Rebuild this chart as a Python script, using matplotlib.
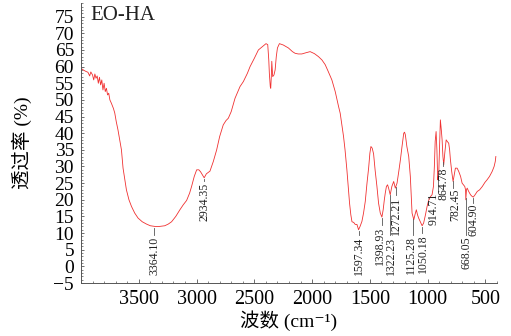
import numpy as np
import matplotlib
matplotlib.use("Agg")
import matplotlib.pyplot as plt
from matplotlib.ticker import MultipleLocator

# ---- data ----
wavenumber = [4000, 3980, 3960, 3940, 3925, 3915, 3900, 3890, 3880, 3870, 3860, 3850, 3840, 3830,
              3820, 3810, 3800, 3790, 3780, 3770, 3760, 3750, 3737, 3720, 3708, 3695, 3680, 3665,
              3650, 3636, 3620, 3607, 3585, 3563, 3535, 3506, 3470, 3433, 3400, 3361, 3320, 3275,
              3245, 3216, 3180, 3144, 3115, 3086, 3060, 3043, 3020, 2999, 2980, 2965, 2950, 2934,
              2915, 2884, 2855, 2826, 2800, 2769, 2745, 2725, 2700, 2667, 2624, 2595, 2560, 2537,
              2500, 2465, 2430, 2399, 2384, 2375, 2370, 2362, 2358, 2353, 2349, 2345, 2341, 2330,
              2320, 2310, 2300, 2283, 2250, 2205, 2170, 2147, 2120, 2089, 2050, 2017, 1980, 1945,
              1915, 1887, 1860, 1829, 1800, 1771, 1757, 1740, 1728, 1715, 1699, 1685, 1676, 1665,
              1655, 1640, 1627, 1612, 1598, 1585, 1569, 1555, 1540, 1525, 1511, 1500, 1491, 1480,
              1468, 1455, 1439, 1425, 1410, 1396, 1385, 1375, 1367, 1357, 1347, 1338, 1324, 1310,
              1294, 1280, 1265, 1250, 1236, 1222, 1207, 1200, 1193, 1180, 1164, 1150, 1135, 1120,
              1110, 1098, 1088, 1078, 1065, 1048, 1035, 1019, 1005, 990, 975, 962, 950, 942, 935,
              927, 920, 913, 908, 904, 898, 890, 882, 875, 868, 861, 852, 840, 830, 818, 810, 803,
              792, 780, 770, 760, 745, 731, 715, 702, 690, 679, 672, 670, 667, 664, 658, 645, 629,
              615, 605, 590, 571, 550, 527, 505, 486, 465, 442, 425, 415, 410]
transmittance = [59.5, 59.0, 58.6, 58.3, 57.2, 58.4, 57.5, 56.0, 57.8, 56.5, 57.2, 55.0, 56.8, 54.5,
                 56.0, 53.0, 55.0, 52.5, 53.5, 51.5, 52.0, 50.0, 49.0, 47.5, 46.1, 43.5, 41.0, 38.0,
                 35.0, 29.5, 26.0, 23.0, 20.0, 18.0, 16.0, 14.5, 13.4, 12.7, 12.2, 12.0, 12.0, 12.2,
                 12.7, 13.4, 15.0, 17.0, 18.5, 19.8, 22.0, 24.0, 27.0, 29.0, 29.0, 28.4, 27.5, 26.6,
                 27.8, 28.6, 31.5, 35.0, 39.0, 42.5, 43.8, 44.5, 46.5, 50.5, 54.0, 55.5, 58.0, 60.0,
                 62.5, 65.0, 66.0, 66.9, 66.6, 62.0, 58.0, 54.0, 53.5, 57.0, 61.6, 59.0, 57.0, 57.5,
                 59.0, 63.0, 65.6, 66.9, 66.5, 65.6, 64.5, 64.0, 63.8, 63.8, 64.2, 64.5, 63.9, 63.0,
                 62.0, 60.6, 58.5, 56.0, 52.5, 48.0, 46.0, 42.0, 39.0, 35.0, 29.0, 23.0, 19.0, 15.5,
                 13.4, 13.2, 12.6, 12.6, 11.0, 12.0, 13.5, 16.0, 19.5, 25.0, 29.5, 34.0, 36.0, 35.5,
                 33.8, 29.0, 24.0, 19.0, 16.0, 14.8, 17.0, 20.0, 22.0, 24.0, 24.5, 23.5, 21.5, 24.0,
                 25.5, 23.5, 25.0, 28.5, 32.0, 36.0, 40.0, 40.3, 39.5, 36.0, 33.0, 27.0, 16.0, 14.0,
                 15.5, 17.0, 15.5, 14.5, 13.5, 12.2, 13.0, 15.5, 18.0, 20.0, 21.0, 21.5, 24.0, 30.0, 37.5,
                 40.5, 35.0, 26.0, 27.0, 28.0, 35.0, 44.0, 41.0, 38.0, 33.0, 30.5, 34.0, 38.0, 37.5, 37.0, 35.0, 32.0,
                 28.5, 25.5, 27.5, 29.5, 29.5, 28.5, 27.0, 25.0, 24.5, 24.0, 23.0, 20.0, 21.5, 23.0, 23.5, 22.5, 21.5,
                 21.0, 20.8, 21.5, 22.5, 23.0, 24.0, 25.2, 26.0, 27.0, 28.5, 30.0, 31.5, 33.0]

peak_wavenumbers = [3364.10, 2934.35, 1597.34, 1398.93, 1322.23, 1272.21, 1125.28,
                    1050.18, 914.71, 864.78, 782.45, 668.05, 604.90]
peak_labels = ["3364.10", "2934.35", "1597.34", "1398.93", "1322.23", "1272.21", "1125.28",
               "1050.18", "914.71", "864.78", "782.45", "668.05", "604.90"]
# annotation placement: top of each rotated label (transmittance units) and its x (wavenumber)
label_tops = [9.0, 25.2, 9.0, 12.0, 9.0, 21.0, 9.2, 9.6, 22.0, 29.8, 23.3, 9.0, 18.8]
label_x = [3364.10, 2934.35, 1597.34, 1410.0, 1318.0, 1272.21, 1142.0,
           1040.0, 948.0, 860.0, 764.0, 668.05, 604.90]

x_ticks = [3500, 3000, 2500, 2000, 1500, 1000, 500]
y_ticks = list(range(-5, 80, 5))

# ---- figure ----
serif = ["Liberation Serif", "Noto Sans CJK SC", "DejaVu Serif"]
plt.rcParams["font.family"] = serif

fig = plt.figure(figsize=(5.11, 3.36), dpi=100)
ax = fig.add_axes([0.1585, 0.1577, 0.8141, 0.8323])

ax.plot(wavenumber, transmittance, color="#f03030", lw=0.6)

wn_sorted = np.array(wavenumber[::-1], dtype=float)
tr_sorted = np.array(transmittance[::-1], dtype=float)
for w, lab, top, tx in zip(peak_wavenumbers, peak_labels, label_tops, label_x):
    cv = float(np.interp(w, wn_sorted, tr_sorted))
    if cv - 0.4 > top + 0.3:
        ax.plot([w, w], [cv - 0.4, top + 0.3], color="#555555", lw=0.6)
    ax.text(tx, top, lab, rotation=90, ha="center", va="top", fontsize=8.5,
            color="#222222", family=serif)

ax.set_xlim(4000, 400)
ax.set_ylim(-5, 79)
ax.set_xticks(x_ticks)
ax.set_yticks(y_ticks)
ax.xaxis.set_minor_locator(MultipleLocator(100))
ax.yaxis.set_minor_locator(MultipleLocator(1))

for s in ["top", "right"]:
    ax.spines[s].set_visible(False)
for s in ["left", "bottom"]:
    ax.spines[s].set_color("#555555")
    ax.spines[s].set_linewidth(0.7)

ax.tick_params(axis="x", which="major", direction="in", length=3, width=0.6,
               color="#555555", labelsize=14.5, pad=5)
ax.tick_params(axis="x", which="minor", direction="in", length=1.5, width=0.5, color="#555555")
ax.tick_params(axis="y", which="major", direction="in", length=2.5, width=0.6,
               color="#555555", labelsize=14, pad=5)
ax.tick_params(axis="y", which="minor", direction="in", length=1.2, width=0.5, color="#555555")

ax.set_xlabel("波数 (cm\u207b\u00b9)", fontsize=14, labelpad=1)
ax.set_ylabel("透过率 (%)", fontsize=14)
ax.yaxis.set_label_coords(-0.118, 0.5)

ax.text(0.022, 0.955, "EO-HA", transform=ax.transAxes, fontsize=15, ha="left", va="center",
        color="#222222")

fig.savefig("out.png", dpi=100)
